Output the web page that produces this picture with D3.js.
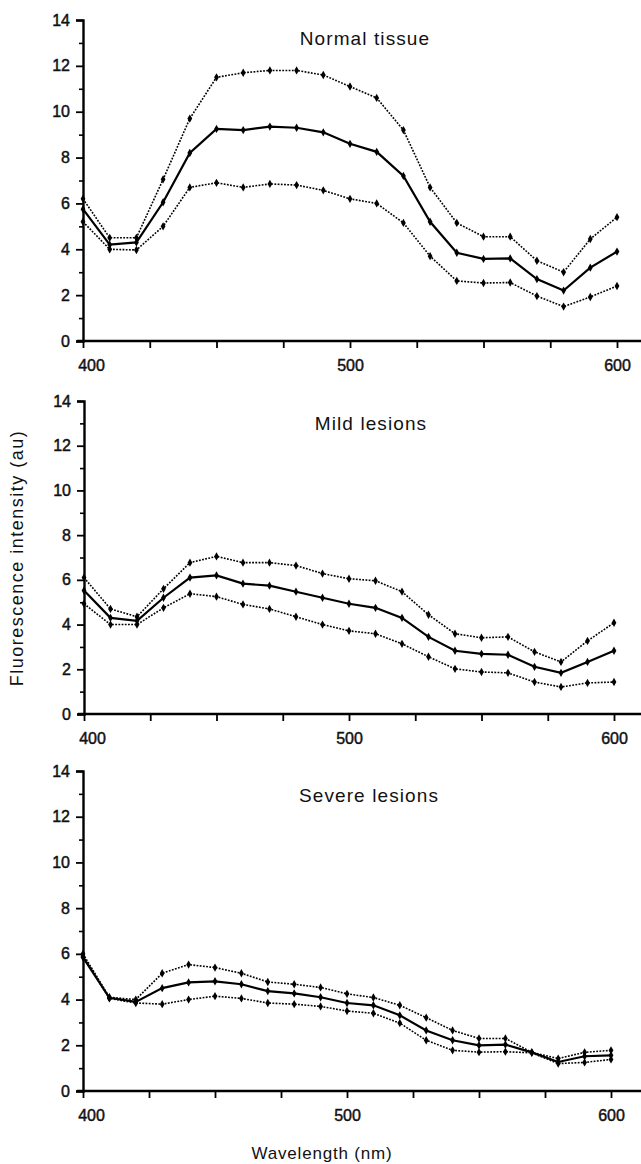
<!DOCTYPE html>
<html>
<head>
<meta charset="utf-8">
<script src="https://cdn.jsdelivr.net/npm/d3@7"></script>
<style>
  body { margin: 0; background: #fff; }
  svg { display: block; }
  text { font-family: "Liberation Sans", Arial, Helvetica, sans-serif; fill: #111; }
</style>
</head>
<body>
<div id="chart"></div>
<script>
var wavelengths = [400, 410, 420, 430, 440, 450, 460, 470, 480, 490, 500,
                   510, 520, 530, 540, 550, 560, 570, 580, 590, 600];

var xTicks = [400, 425, 450, 475, 500, 525, 550, 575, 600];
var xTickLabels = [400, 500, 600];
var yMajorTicks = [0, 2, 4, 6, 8, 10, 12, 14];
var yMinorTicks = [1, 3, 5, 7, 9, 11, 13];

var panelTitles = ["Normal tissue", "Mild lesions", "Severe lesions"];

// normal tissue
var normalUpper = [6.2, 4.5, 4.5, 7.05, 9.7, 11.5, 11.7, 11.8, 11.8, 11.6, 11.1,
                   10.6, 9.2, 6.7, 5.15, 4.55, 4.55, 3.5, 3.0, 4.45, 5.4];
var normalMean  = [5.75, 4.2, 4.3, 6.05, 8.2, 9.25, 9.2, 9.35, 9.3, 9.1, 8.6,
                   8.25, 7.2, 5.2, 3.85, 3.58, 3.6, 2.7, 2.2, 3.2, 3.9];
var normalLower = [5.2, 4.0, 3.97, 5.0, 6.7, 6.9, 6.7, 6.85, 6.8, 6.57, 6.2,
                   6.0, 5.15, 3.7, 2.62, 2.53, 2.55, 1.96, 1.5, 1.92, 2.4];

// mild lesions
var mildUpper = [6.1, 4.7, 4.35, 5.6, 6.77, 7.05, 6.77, 6.77, 6.64, 6.28, 6.05,
                 5.96, 5.47, 4.44, 3.59, 3.41, 3.45, 2.78, 2.33, 3.27, 4.08];
var mildMean  = [5.52, 4.3, 4.17, 5.2, 6.1, 6.2, 5.83, 5.74, 5.47, 5.2, 4.93,
                 4.75, 4.3, 3.45, 2.83, 2.69, 2.65, 2.11, 1.84, 2.33, 2.83];
var mildLower = [4.93, 4.0, 4.0, 4.75, 5.38, 5.25, 4.9, 4.7, 4.35, 4.0, 3.72,
                 3.59, 3.14, 2.56, 2.02, 1.88, 1.84, 1.43, 1.21, 1.39, 1.43];

// severe lesions
var severeUpper = [6.0, 4.1, 4.0, 5.15, 5.53, 5.4, 5.15, 4.77, 4.67, 4.53, 4.25,
                   4.09, 3.75, 3.21, 2.65, 2.3, 2.3, 1.69, 1.42, 1.69, 1.78];
var severeMean  = [5.85, 4.08, 3.9, 4.5, 4.75, 4.8, 4.67, 4.37, 4.27, 4.1, 3.85,
                   3.75, 3.31, 2.65, 2.22, 2.0, 2.03, 1.69, 1.27, 1.52, 1.56];
var severeLower = [5.9, 4.05, 3.85, 3.8, 4.0, 4.15, 4.05, 3.85, 3.8, 3.7, 3.5,
                   3.4, 2.97, 2.22, 1.78, 1.7, 1.72, 1.67, 1.2, 1.25, 1.38];

var panelSeries = [
  [normalUpper, normalMean, normalLower],
  [mildUpper, mildMean, mildLower],
  [severeUpper, severeMean, severeLower]
];

// where each panel sits on the page
var layout = [
  {top: 20,  bottom: 341,  left: 83, right: 617, titleX: 365, titleY: 45},
  {top: 401, bottom: 714,  left: 84, right: 614, titleX: 371, titleY: 430},
  {top: 771, bottom: 1091, left: 83, right: 611, titleX: 369, titleY: 802}
];

var W = 641, H = 1164;

var svg = d3.select("#chart").append("svg")
  .attr("width", W)
  .attr("height", H);

var diamond = d3.symbol().type(d3.symbolDiamond).size(20);

panelSeries.forEach(function(series, p){
  var L = layout[p];
  var x = d3.scaleLinear().domain([400, 600]).range([L.left, L.right]);
  var y = d3.scaleLinear().domain([0, 14]).range([L.bottom, L.top]);

  var g = svg.append("g");

  // y axis, major + minor ticks
  var yAxis = g.append("g")
    .attr("transform", "translate(" + L.left + ",0)")
    .call(d3.axisLeft(y).tickValues(yMajorTicks).tickSize(7).tickPadding(6));
  yAxis.select(".domain").attr("stroke-width", 2.4);
  yAxis.selectAll(".tick line").attr("stroke-width", 1.8);
  yAxis.selectAll(".tick text").style("font-size", "16px").attr("fill", "#111")
    .attr("stroke", "#111").attr("stroke-width", 0.45);

  var yMinor = g.append("g")
    .attr("transform", "translate(" + L.left + ",0)")
    .call(d3.axisLeft(y).tickValues(yMinorTicks).tickSize(4).tickFormat(""));
  yMinor.select(".domain").remove();
  yMinor.selectAll(".tick line").attr("stroke-width", 1.6);

  // x axis, line runs to the page edge
  var xAxis = g.append("g")
    .attr("transform", "translate(0," + L.bottom + ")")
    .call(d3.axisBottom(x).tickValues(xTicks).tickSize(7).tickPadding(12)
      .tickFormat(function(d){ return xTickLabels.indexOf(d) >= 0 ? d : ""; }));
  xAxis.select(".domain").remove();
  xAxis.selectAll(".tick line").attr("stroke-width", 1.8);
  xAxis.selectAll(".tick text").style("font-size", "16px").attr("fill", "#111")
    .attr("stroke", "#111").attr("stroke-width", 0.45)
    .attr("dx", function(d){ return d == 400 ? 8 : 0; });
  g.append("line")
    .attr("x1", L.left - 6).attr("x2", W)
    .attr("y1", L.bottom).attr("y2", L.bottom)
    .attr("stroke", "#000").attr("stroke-width", 2.4);

  g.append("text")
    .attr("x", L.titleX).attr("y", L.titleY)
    .attr("text-anchor", "middle")
    .style("font-size", "19px")
    .style("letter-spacing", "1.1px")
    .text(panelTitles[p]);

  var line = d3.line()
    .x(function(d, i){ return x(wavelengths[i]); })
    .y(function(d){ return y(d); });

  series.forEach(function(vals, s){
    var isMean = (s == 1);
    g.append("path")
      .datum(vals)
      .attr("d", line)
      .attr("fill", "none")
      .attr("stroke", "#000")
      .attr("stroke-width", isMean ? 2.2 : 1.6)
      .attr("stroke-dasharray", isMean ? null : "1.8,1.4");

    g.selectAll(".pt" + s)
      .data(vals)
      .enter().append("path")
      .attr("d", diamond)
      .attr("transform", function(d, i){
        return "translate(" + x(wavelengths[i]) + "," + y(d) + ")";
      })
      .attr("fill", "#000");
  });
});

// shared axis titles
svg.append("text")
  .attr("transform", "translate(23,558) rotate(-90)")
  .attr("text-anchor", "middle")
  .style("font-size", "18px")
  .style("letter-spacing", "1.5px")
  .text("Fluorescence intensity (au)");

svg.append("text")
  .attr("x", 322).attr("y", 1159)
  .attr("text-anchor", "middle")
  .style("font-size", "17px")
  .style("letter-spacing", "0.8px")
  .text("Wavelength (nm)");
</script>
</body>
</html>
